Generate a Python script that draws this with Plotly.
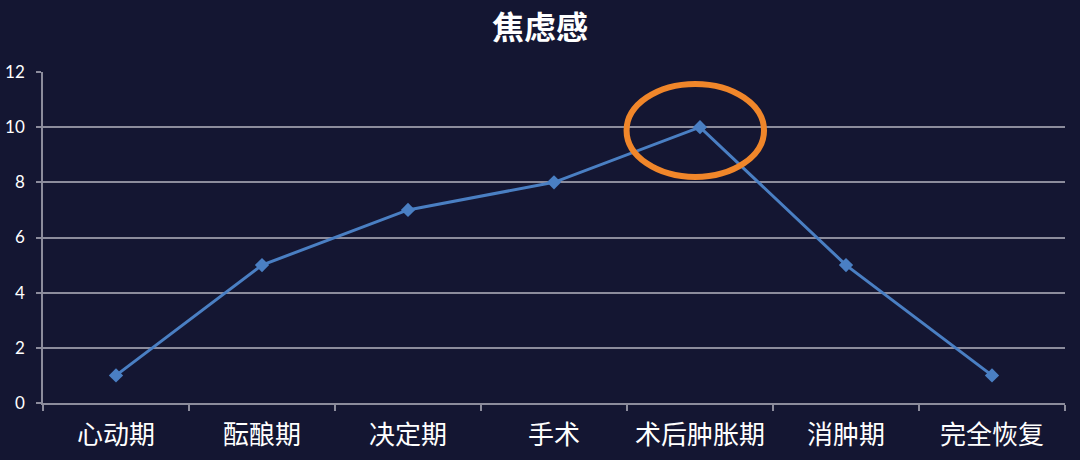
import plotly.graph_objects as go

categories = ["心动期", "酝酿期", "决定期", "手术", "术后肿胀期", "消肿期", "完全恢复"]
anxiety = [1, 5, 7, 8, 10, 5, 1]
y_ticks = [0, 2, 4, 6, 8, 10, 12]

bg = "#141632"
grid = "#8c8c9c"
font_family = "Noto Sans CJK SC"

fig = go.Figure()
fig.add_trace(go.Scatter(
    x=categories, y=anxiety, mode="lines+markers",
    line=dict(color="#4a7fc3", width=3),
    marker=dict(symbol="diamond", size=11, color="#4a7fc3"),
    showlegend=False,
))

fig.add_shape(type="circle", xref="paper", yref="paper",
              x0=0.571, x1=0.7055, y0=0.683, y1=0.964,
              line=dict(color="#f0862a", width=6))

fig.update_layout(
    width=1080, height=460,
    paper_bgcolor=bg, plot_bgcolor=bg,
    margin=dict(l=43, r=15, t=72, b=57, autoexpand=False),
    title=dict(text="<b>焦虑感</b>", x=0.5, xanchor="center", y=0.94, yanchor="middle",
               font=dict(family=font_family, size=32, color="white")),
    font=dict(family=font_family, color="white"),
    xaxis=dict(
        type="category", showgrid=False, showline=True, linecolor=grid, linewidth=1.5,
        ticks="outside", ticklen=6, tickcolor=grid, tickwidth=1.5,
        tickson="boundaries", tickfont=dict(size=26, color="white"),
        ticklabelstandoff=8, automargin=False,
        range=[-0.5, 6.5], fixedrange=True,
    ),
    yaxis=dict(
        range=[0, 12], tickvals=y_ticks, showgrid=True, gridcolor=grid, gridwidth=1.5,
        showline=True, linecolor=grid, linewidth=1.5, zeroline=False,
        ticks="outside", ticklen=5, tickcolor=grid, tickwidth=1.5,
        ticklabelstandoff=8, automargin=False, fixedrange=True,
        tickfont=dict(size=17, color="white", family="Lato"),
    ),
)

fig.write_html("out.html", config={"displayModeBar": False},
               post_script="document.body.style.margin='0';document.body.style.background='%s';" % bg)
